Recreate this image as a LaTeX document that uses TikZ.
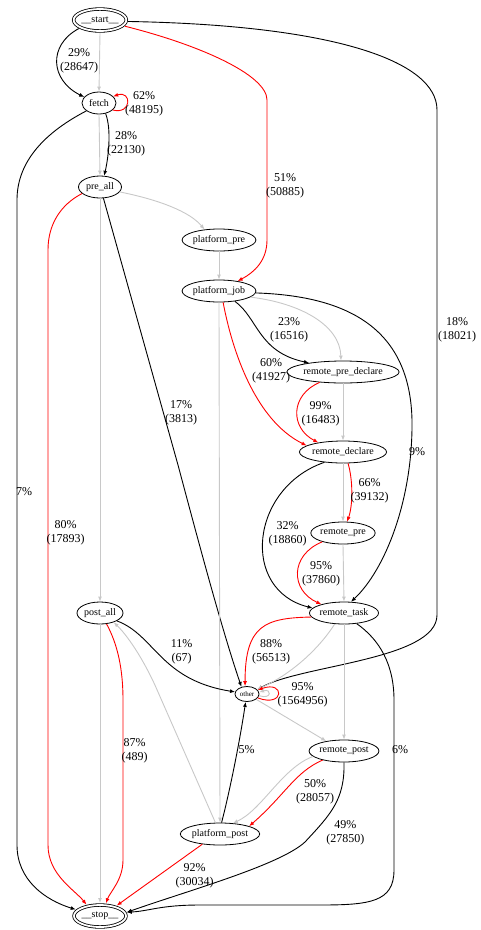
\documentclass[tikz,border=0pt]{standalone}
\usepackage{fontspec}
\setmainfont{Liberation Serif}
\usetikzlibrary{shapes.geometric,arrows.meta}

\begin{document}
\begin{tikzpicture}[x=1pt,y=-1pt,
	jobnode/.style={draw,ellipse,line width=0.8pt,inner sep=0pt,minimum height=22pt,font=\fontsize{10}{12}\selectfont},
	endnode/.style={jobnode,double,double distance=1.8pt,minimum width=52pt,minimum height=22pt,outer sep=2pt},
	lbl/.style={align=center,inner sep=0pt,font=\fontsize{12}{14}\selectfont},
	bedge/.style={black,line width=0.9pt,-{Latex[length=5pt,width=4pt]}},
	redge/.style={bedge,red},
	gedge/.style={bedge,edgegrey}]
	\definecolor{edgegrey}{HTML}{C8C8C8}
	\useasboundingbox (0,0) rectangle (481,930);
	
	% states
	\node[endnode] (start) at (100,20) {\_\_start\_\_};
	\node[jobnode,minimum width=34pt] (fetch) at (99,103) {fetch};
	\node[jobnode,minimum width=43pt] (preall) at (100,187) {pre\_all};
	\node[jobnode,minimum width=67pt] (platpre) at (219,240) {platform\_pre};
	\node[jobnode,minimum width=68pt] (platjob) at (219,291) {platform\_job};
	\node[jobnode,minimum width=96pt] (rpredecl) at (343,372) {remote\_pre\_declare};
	\node[jobnode,minimum width=78pt] (rdecl) at (343,452) {remote\_declare};
	\node[jobnode,minimum width=62pt] (rpre) at (343,533) {remote\_pre};
	\node[jobnode,minimum width=64pt] (rtask) at (344,613) {remote\_task};
	\node[jobnode,minimum width=46pt] (postall) at (100,613) {post\_all};
	\node[jobnode,minimum width=24pt,minimum height=15pt,font=\fontsize{7}{8}\selectfont] (other) at (247,694) {other};
	\node[jobnode,minimum width=65pt] (rpost) at (344,751) {remote\_post};
	\node[jobnode,minimum width=72pt] (platpost) at (220,834) {platform\_post};
	\node[endnode] (stop) at (100,916) {\_\_stop\_\_};
	
	% from __start__
	\draw[bedge] (start.202) .. controls (48,45) and (50,80) .. (fetch.158);
	\draw[gedge] (start.south) -- (fetch.north);
	\draw[redge] (start.346) .. controls (200,45) and (267,75) .. (267,100) -- (267,240) .. controls (267,260) and (255,272) .. (platjob.28);
	\draw[bedge] (start.357) .. controls (330,25) and (437,60) .. (437,110) -- (437,615) .. controls (437,660) and (300,665) .. (other.23);
	
	% fetch, pre_all
	\draw[redge] (fetch.-27) .. controls (132,115) and (132,90) .. (fetch.25);
	\draw[bedge] (fetch.-58) .. controls (112,130) and (108,160) .. (preall.70);
	\draw[gedge] (fetch.south) -- (preall.north);
	\draw[bedge] (fetch.212) .. controls (40,135) and (17,165) .. (17,200) -- (17,845) .. controls (17,880) and (45,900) .. (stop.165);
	\draw[gedge] (preall.-14) .. controls (160,200) and (190,212) .. (platpre.144);
	\draw[redge] (preall.200) .. controls (60,205) and (48,225) .. (48,250) -- (48,845) .. controls (48,875) and (75,890) .. (stop.140);
	\draw[gedge] (preall.south) -- (postall.north);
	\draw[bedge] (preall.-73) -- (178,465) .. controls (198,540) and (222,630) .. (other.128);
	
	% platform_pre, platform_job
	\draw[gedge] (platpre) -- (platjob);
	\draw[bedge] (platjob.-33) .. controls (258,318) and (258,352) .. (rpredecl.165);
	\draw[gedge] (platjob.-11) .. controls (300,303) and (340,325) .. (rpredecl.100);
	\draw[redge] (platjob.-70) .. controls (232,350) and (255,420) .. (rdecl.170);
	\draw[bedge] (platjob.-3) .. controls (350,296) and (410,330) .. (412,420) .. controls (413,500) and (385,570) .. (rtask.58);
	\draw[gedge] (platjob.south) -- (platpost.north);
	
	% remote chain
	\draw[redge] (rpredecl.204) .. controls (290,395) and (290,428) .. (rdecl.159);
	\draw[gedge] (rpredecl.south) -- (rdecl.north);
	\draw[redge] (rdecl.-66) .. controls (353,480) and (353,505) .. (rpre.70);
	\draw[gedge] (rdecl.south) -- (rpre.north);
	\draw[bedge] (rdecl.209) .. controls (250,488) and (240,590) .. (rtask.171);
	\draw[redge] (rpre.203) .. controls (290,555) and (290,590) .. (rtask.159);
	\draw[gedge] (rpre.south) -- (rtask.north);
	\draw[redge] (rtask.187) .. controls (265,618) and (245,625) .. (other.104);
	\draw[gedge] (rtask.230) .. controls (318,650) and (290,675) .. (other.25);
	\draw[gedge] (rtask.south) -- (rpost.north);
	\draw[bedge] (rtask.-40) .. controls (380,640) and (394,665) .. (394,700) -- (394,870) .. controls (394,902) and (370,905) .. (320,905) -- (200,905) .. controls (160,905) and (150,911) .. (stop.8);
	
	% post_all, other
	\draw[bedge] (postall.-25) .. controls (155,635) and (160,680) .. (other.170);
	\draw[redge] (postall.-59) .. controls (118,645) and (123,670) .. (123,700) -- (123,860) .. controls (123,880) and (110,892) .. (stop.65);
	\draw[gedge] (postall.south) -- (stop.north);
	\draw[redge] (other.-20) .. controls (285,708) and (285,680) .. (other.20);
	\draw[gedge] (other.-8) .. controls (272,700) and (272,688) .. (other.8);
	\draw[gedge] (other.-30) -- (rpost.151);
	
	% remote_post, platform_post
	\draw[bedge] (platpost.82) .. controls (230,790) and (240,740) .. (other.-100);
	\draw[gedge] (platpost.112) -- (158,692) .. controls (147,666) and (130,638) .. (postall.-34);
	\draw[redge] (rpost.203) .. controls (295,772) and (285,795) .. (platpost.15);
	\draw[gedge] (rpost.190) .. controls (282,768) and (262,810) .. (platpost.40);
	\draw[bedge] (rpost.south) .. controls (345,800) and (330,815) .. (305,842) .. controls (280,865) and (190,890) .. (stop.8);
	\draw[redge] (platpost.210) -- (stop.32);
	
	% labels
	\node[lbl] (l1) at (79,61) {29\%\\(28647)};
	\node[lbl] (l2) at (144,103.5) {62\%\\(48195)};
	\node[lbl] (l3) at (126,144) {28\%\\(22130)};
	\node[lbl] (l4) at (285,186) {51\%\\(50885)};
	\node[lbl] (l5) at (457,330) {18\%\\(18021)};
	\node[lbl] (l6) at (289,330) {23\%\\(16516)};
	\node[lbl] (l7) at (271,371) {60\%\\(41927)};
	\node[lbl] (l8) at (320.5,413.5) {99\%\\(16483)};
	\node[lbl] (l9) at (181,413) {17\%\\(3813)};
	\node[lbl] (l10) at (417,452) {9\%};
	\node[lbl] (l11) at (24,492) {7\%};
	\node[lbl] (l12) at (65.5,533) {80\%\\(17893)};
	\node[lbl] (l13) at (369.5,491) {66\%\\(39132)};
	\node[lbl] (l14) at (287.5,533.5) {32\%\\(18860)};
	\node[lbl] (l15) at (321,574) {95\%\\(37860)};
	\node[lbl] (l16) at (181.7,652) {11\%\\(67)};
	\node[lbl] (l17) at (271,652) {88\%\\(56513)};
	\node[lbl] (l18) at (302.7,694.5) {95\%\\(1564956)};
	\node[lbl] (l19) at (134.7,750.3) {87\%\\(489)};
	\node[lbl] (l20) at (246.7,750) {5\%};
	\node[lbl] (l21) at (400,750) {6\%};
	\node[lbl] (l22) at (315,792) {50\%\\(28057)};
	\node[lbl] (l23) at (345.3,833) {49\%\\(27850)};
	\node[lbl] (l24) at (194.7,875.3) {92\%\\(30034)};
\end{tikzpicture}
\end{document}
